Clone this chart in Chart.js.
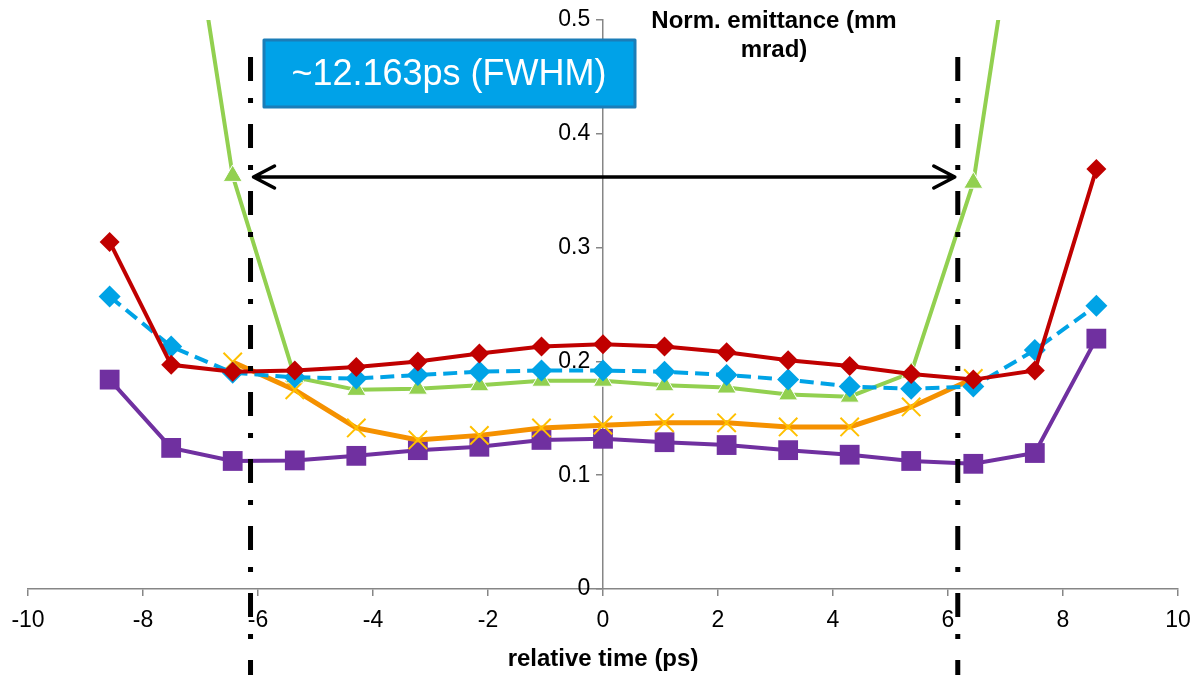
<!DOCTYPE html>
<html lang="en">
<head>
    <meta charset="UTF-8">
    <title>Norm. emittance vs relative time</title>
    <style>
        html, body {
            margin: 0;
            padding: 0;
            background: #fff;
            font-family: 'Liberation Sans', Arial, sans-serif;
        }
        #wrap {
            width: 1195px;
            height: 675px;
        }
    </style>
    <script src="https://cdn.jsdelivr.net/npm/chart.js"></script>
</head>
<body>
    <div id="wrap"><canvas id="emitChart" width="1195" height="675"></canvas></div>
    <script>
        // slice times (ps)
        const times = [-8.58, -7.51, -6.44, -5.36, -4.29, -3.22, -2.15, -1.07, 0, 1.07, 2.15, 3.22, 4.29, 5.36, 6.44, 7.51, 8.58];

        // norm. emittance per series (mm mrad)
        const redVals = [0.305, 0.197, 0.191, 0.192, 0.195, 0.200, 0.207, 0.213, 0.215, 0.213, 0.208, 0.201, 0.196, 0.189, 0.184, 0.192, 0.369];
        const blueVals = [0.257, 0.213, 0.190, 0.186, 0.185, 0.188, 0.191, 0.192, 0.192, 0.191, 0.188, 0.184, 0.178, 0.176, 0.178, 0.210, 0.249];
        const greenVals = [1.2, 0.71, 0.363, 0.186, 0.175, 0.176, 0.179, 0.183, 0.183, 0.179, 0.177, 0.171, 0.169, 0.190, 0.357, 0.71, 1.2];
        const orangeVals = [null, null, 0.1995, 0.175, 0.1415, 0.131, 0.135, 0.1415, 0.144, 0.146, 0.146, 0.1424, 0.1424, 0.160, 0.185, null, null];
        const purpleVals = [0.184, 0.124, 0.1125, 0.113, 0.117, 0.122, 0.125, 0.131, 0.132, 0.129, 0.1265, 0.122, 0.118, 0.1125, 0.110, 0.1195, 0.220];

        // FWHM markers
        const fwhmEdges = [-6.13, 6.17];
        const arrowLevel = 0.362;
        const fwhmLabel = '~12.163ps (FWHM)';
        const yTitle = ['Norm. emittance (mm', 'mrad)'];

        const pts = vals => times.map((t, i) => ({ x: t, y: vals[i] }));

        const overlay = {
            id: 'overlay',
            afterDatasetsDraw(chart) {
                const ctx = chart.ctx;
                const xs = chart.scales.x, ys = chart.scales.y;
                const xL = xs.getPixelForValue(fwhmEdges[0]);
                const xR = xs.getPixelForValue(fwhmEdges[1]);
                const yA = ys.getPixelForValue(arrowLevel);

                ctx.save();
                // dash-dot verticals
                ctx.strokeStyle = '#000';
                ctx.lineWidth = 5;
                ctx.setLineDash([24, 17, 5, 21]);
                [xL, xR].forEach(x => {
                    ctx.beginPath();
                    ctx.moveTo(x, 57);
                    ctx.lineTo(x, chart.height);
                    ctx.stroke();
                });

                // double arrow
                ctx.setLineDash([]);
                ctx.lineWidth = 3.5;
                ctx.lineCap = 'round';
                ctx.lineJoin = 'round';
                ctx.beginPath();
                ctx.moveTo(xL + 3, yA);
                ctx.lineTo(xR - 3, yA);
                ctx.moveTo(xL + 24, yA - 11);
                ctx.lineTo(xL + 3, yA);
                ctx.lineTo(xL + 24, yA + 11);
                ctx.moveTo(xR - 24, yA - 11);
                ctx.lineTo(xR - 3, yA);
                ctx.lineTo(xR - 24, yA + 11);
                ctx.stroke();

                // label box
                ctx.fillStyle = '#00A2E8';
                ctx.fillRect(264, 40, 371, 67);
                ctx.strokeStyle = '#1B7DB8';
                ctx.lineWidth = 3;
                ctx.strokeRect(264, 40, 371, 67);
                ctx.fillStyle = '#fff';
                ctx.font = '36px "Liberation Sans", Arial, sans-serif';
                ctx.textAlign = 'center';
                ctx.textBaseline = 'middle';
                ctx.fillText(fwhmLabel, 449, 75);

                // y-axis title
                ctx.fillStyle = '#000';
                ctx.font = 'bold 24px "Liberation Sans", Arial, sans-serif';
                ctx.fillText(yTitle[0], 774, 21);
                ctx.fillText(yTitle[1], 774, 50);
                ctx.restore();
            }
        };

        const tickFont = { family: 'Liberation Sans', size: 23 };

        new Chart(document.getElementById('emitChart'), {
            type: 'scatter',
            data: {
                datasets: [
                    {
                        data: pts(redVals), showLine: true,
                        borderColor: '#C00000', backgroundColor: '#C00000', borderWidth: 4,
                        pointStyle: 'rectRot', pointRadius: 10, pointBorderWidth: 0
                    },
                    {
                        data: pts(blueVals), showLine: true, borderDash: [14, 7],
                        borderColor: '#00A3E6', backgroundColor: '#00A3E6', borderWidth: 4,
                        pointStyle: 'rectRot', pointRadius: 11, pointBorderWidth: 0
                    },
                    {
                        data: pts(greenVals), showLine: true,
                        borderColor: '#92D050', backgroundColor: '#92D050', borderWidth: 4,
                        pointStyle: 'triangle', pointRadius: 11, pointBorderWidth: 1, pointBorderColor: '#fff'
                    },
                    {
                        data: pts(orangeVals), showLine: true,
                        borderColor: '#F59100', backgroundColor: '#FFC000', borderWidth: 5,
                        pointStyle: 'crossRot', pointRadius: 13, pointBorderWidth: 2, pointBorderColor: '#FFC000'
                    },
                    {
                        data: pts(purpleVals), showLine: true,
                        borderColor: '#7030A0', backgroundColor: '#7030A0', borderWidth: 4,
                        pointStyle: 'rect', pointRadius: 14, pointBorderWidth: 0
                    }
                ]
            },
            options: {
                responsive: false,
                animation: false,
                layout: { padding: { left: 28, right: 17, top: 20, bottom: 0 } },
                plugins: {
                    legend: { display: false },
                    tooltip: { enabled: false }
                },
                elements: { line: { tension: 0 } },
                scales: {
                    x: {
                        type: 'linear',
                        min: -10, max: 10,
                        // fixed axis band; edge labels fit inside the layout padding
                        afterFit(scale) {
                            scale.height = 86;
                            scale.paddingLeft = 0;
                            scale.paddingRight = 0;
                        },
                        ticks: { stepSize: 2, color: '#000', font: tickFont, padding: 11, maxRotation: 0 },
                        grid: { drawOnChartArea: false, tickLength: 7, color: '#868686', lineWidth: 1.5 },
                        border: { color: '#868686', width: 1.5 },
                        title: {
                            display: true, text: 'relative time (ps)', color: '#000',
                            font: { family: 'Liberation Sans', size: 24, weight: 'bold', lineHeight: 1.2 },
                            padding: { top: 0, bottom: 1 }
                        }
                    },
                    y: {
                        type: 'linear',
                        position: { x: 0 },
                        min: 0, max: 0.5,
                        afterFit(scale) { scale.width = 0; },
                        // centre-positioned axis puts labels flush on the line, so pad with spaces
                        ticks: {
                            stepSize: 0.1, color: '#000', font: tickFont,
                            callback: v => Number(v.toFixed(1)) + '  '
                        },
                        grid: { drawOnChartArea: false, tickLength: 6, color: '#868686', lineWidth: 1.5 },
                        border: { color: '#868686', width: 1.5 }
                    }
                }
            },
            plugins: [overlay]
        });
    </script>
</body>
</html>
